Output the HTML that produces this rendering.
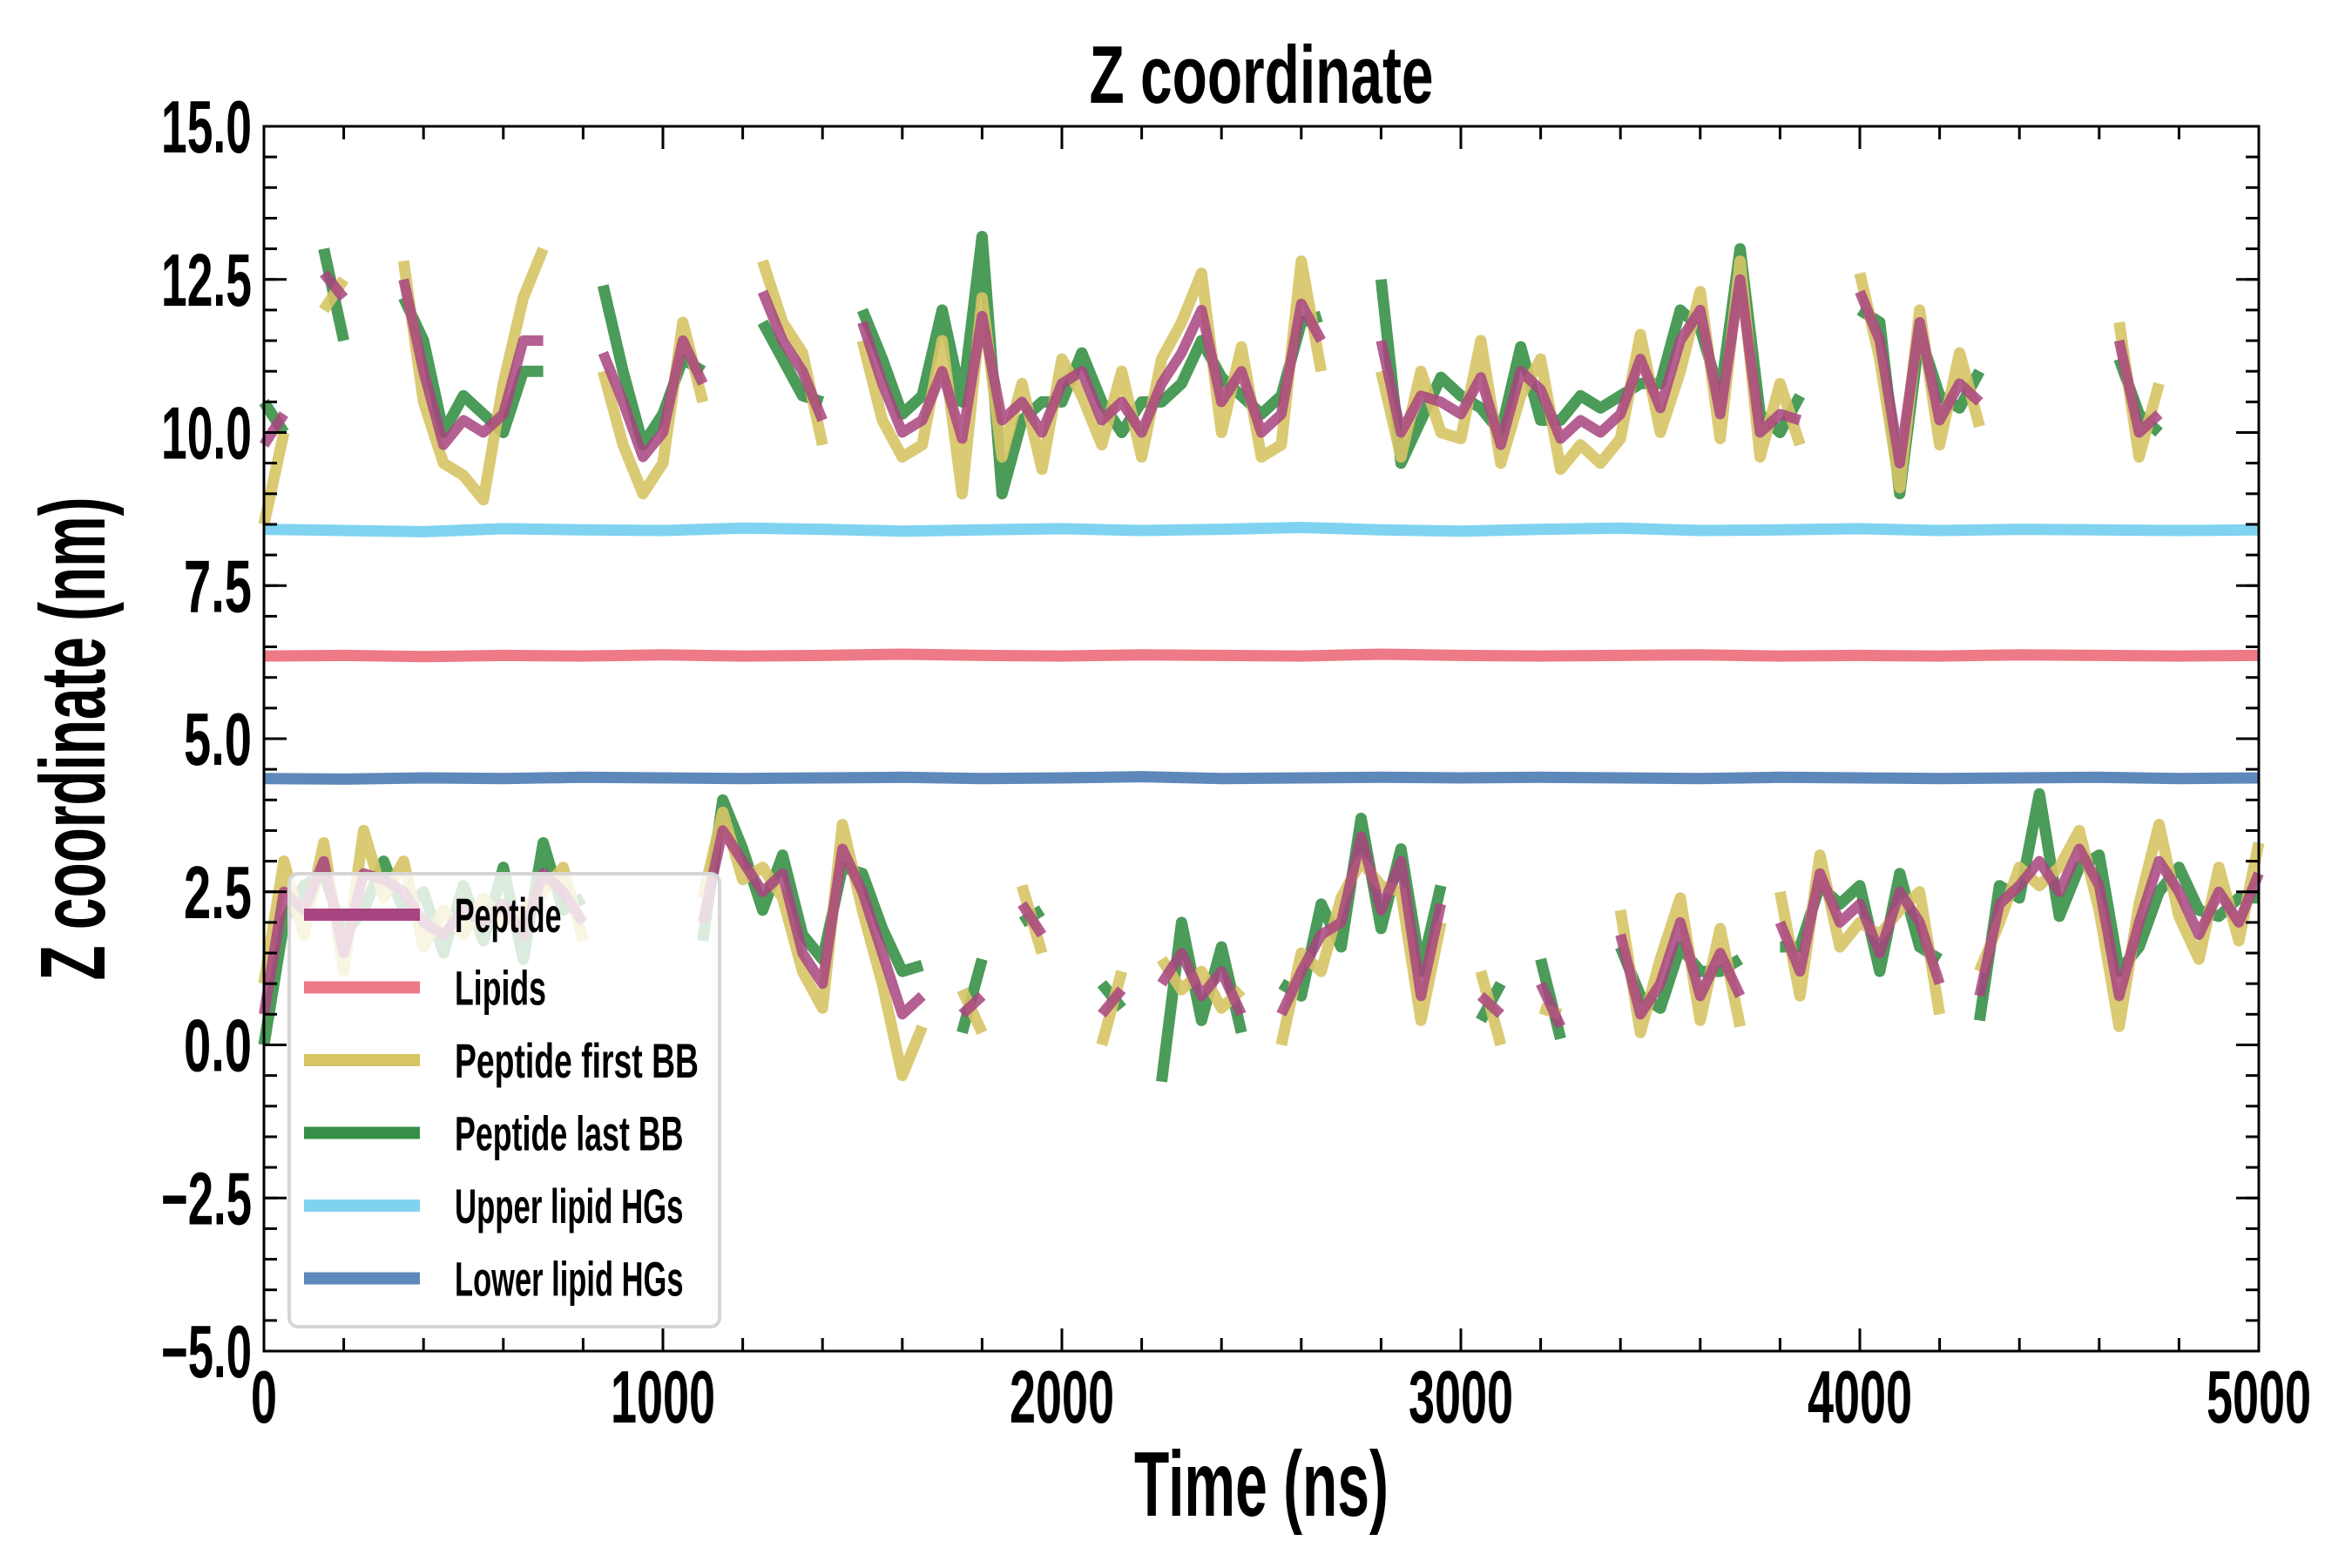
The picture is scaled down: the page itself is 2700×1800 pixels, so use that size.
<!DOCTYPE html>
<html><head><meta charset="utf-8"><style>
html,body{margin:0;padding:0;background:#fff;}
svg{display:block;font-family:"Liberation Sans Narrow","Liberation Sans",sans-serif;font-weight:bold;}
</style></head><body>
<svg id="chart" xmlns="http://www.w3.org/2000/svg" width="2700" height="1800" viewBox="0 0 2700 1800">
<rect width="2700" height="1800" fill="#fff"/>
<g id="plot"></g>
<g id="axes"></g>
<text x="1448" y="118" font-size="94" text-anchor="middle" textLength="395" lengthAdjust="spacingAndGlyphs">Z coordinate</text>
<text x="1448" y="1740" font-size="106" text-anchor="middle" textLength="292" lengthAdjust="spacingAndGlyphs">Time (ns)</text>
<text transform="translate(120,848) rotate(-90)" font-size="106" text-anchor="middle" textLength="555" lengthAdjust="spacingAndGlyphs">Z coordinate (nm)</text>
<g id="legend"></g>
</svg>
<script>
const timeStep = 50;
const pepUpper = [9.8,10.3,null,12.6,12.2,null,null,12.5,11,9.8, 10.2,10,10.3,11.5,11.5,null,null,11.3,10.5,9.6, 10,11.5,10.8,null,null,12.3,11.5,11,10.2,null, 11.8,10.8,10,10.2,11,9.9,11.9,10.2,10.5,10, 10.8,11,10.2,10.5,10,10.8,11.3,12,10.5,11, 10,10.3,12.1,11.5,null,null,11.5,10,10.6,10.5, 10.3,10.9,9.8,11,10.7,9.9,10.2,10,10.3,11.2, 10.4,11.5,12,10.3,12.5,10,10.3,10.2,null,null, 12.3,11.5,9.5,11.8,10.2,10.8,10.5,null,null,null, null,null,null,11.5,10,10.3,null,null,null,null, null];
const pepLower = [0.5,2.5,2.2,3,1.5,2.8,2.7,2.5,2.0,1.8, 2.2,2.0,2.3,1.8,2.8,2.5,2.0,null,null,null, null,null,2.0,3.5,3.0,2.5,2.8,1.5,1.0,3.2, 2.5,1.5,0.5,0.8,null,0.5,0.8,null,2.3,1.8, null,null,0.5,0.9,null,1.0,1.5,0.8,1.2,0.5, null,0.5,1.2,1.8,2.0,3.4,2.2,3.0,0.8,2.3, null,0.8,0.5,null,1.0,0.3,null,null,1.8,0.5, 1.0,2.0,0.8,1.5,0.8,null,2.0,1.2,2.8,2.0, 2.3,1.5,2.5,2.0,1.0,null,0.8,2.3,2.6,3.0, 2.5,3.2,2.6,0.8,2.0,3.0,2.5,1.8,2.5,2.0, 2.8];
const firstUpper = [8.5,10,null,12.0,12.5,null,null,12.8,10.5,9.5, 9.3,8.9,10.8,12.2,13.0,null,null,11.0,9.8,9.0, 9.5,11.8,10.5,null,null,12.8,11.8,11.3,9.8,null, 11.5,10.2,9.6,9.8,11.5,9.0,12.2,9.6,10.8,9.4, 11.2,10.6,9.8,11.0,9.6,11.2,11.8,12.6,10.0,11.4, 9.6,9.8,12.8,11.0,null,null,11.0,9.6,11.0,10.0, 9.9,11.5,9.5,10.6,11.2,9.4,9.8,9.5,9.9,11.6, 10.0,11.0,12.3,9.9,12.8,9.6,10.8,9.8,null,null, 12.6,11.2,9.1,12.0,9.8,11.3,10.1,null,null,null, null,null,null,11.8,9.6,10.8,null,null,null,null, null];
const firstLower = [1.0,3.0,1.8,3.3,1.2,3.5,2.4,3.0,1.6,2.2, 1.8,2.4,2.0,2.2,2.5,2.9,1.7,null,null,null, null,null,2.4,3.8,2.7,2.9,2.4,1.2,0.6,3.6, 2.2,1.0,-0.5,0.3,null,0.9,0.2,null,2.6,1.5, null,null,0.0,1.2,null,1.4,0.9,1.2,0.6,0.9, null,0.0,1.5,1.2,2.4,3.0,2.6,2.5,0.4,2.0, null,1.2,0.0,null,0.6,0.5,null,null,2.2,0.2, 1.4,2.4,0.4,1.9,0.3,null,2.5,0.8,3.1,1.6, 2.0,1.8,2.2,2.5,0.5,null,1.2,2.0,2.9,2.6, 2.9,3.5,2.2,0.3,2.3,3.6,2.1,1.4,2.9,1.7, 3.3];
const lastUpper = [10.5,10.0,null,13.0,11.5,null,null,12.2,11.5,10.0, 10.6,10.3,10.0,11.0,11.0,null,null,12.4,11.0,9.8, 10.3,11.2,11.0,null,null,11.8,11.2,10.6,10.5,null, 12.0,11.2,10.3,10.6,12.0,10.5,13.2,9.0,10.2,10.5, 10.5,11.3,10.5,10.0,10.5,10.5,10.8,11.5,10.9,10.6, 10.3,10.6,11.8,11.9,null,null,12.5,9.5,10.2,10.9, 10.6,10.4,10.0,11.4,10.2,10.2,10.6,10.4,10.6,10.8, 10.8,12.0,11.7,10.6,13.0,10.3,10.0,10.6,null,null, 12.0,11.8,9.0,11.6,10.6,10.4,11.0,null,null,null, null,null,null,11.2,10.3,10.0,null,null,null,null, null];
const lastLower = [0.0,2.0,2.6,2.8,1.8,2.2,3.0,2.2,2.5,1.5, 2.6,1.7,2.9,1.4,3.3,2.2,2.4,null,null,null, null,null,1.7,4.0,3.2,2.2,3.1,1.8,1.4,2.9, 2.8,1.9,1.2,1.3,null,0.2,1.4,null,2.0,2.2, null,null,1.0,0.6,null,-0.6,2.0,0.4,1.6,0.2, null,1.0,0.8,2.3,1.6,3.7,1.9,3.2,1.2,2.6, null,0.4,1.0,null,1.4,0.1,null,null,1.6,0.8, 0.6,1.6,1.2,1.2,1.4,null,1.6,1.6,2.6,2.3, 2.6,1.2,2.8,1.6,1.4,null,0.4,2.6,2.4,4.1, 2.1,2.9,3.1,1.2,1.6,2.5,2.9,2.2,2.1,2.4, 2.4];
const flatStep = 200;
const upperHG = [8.42,8.40,8.38,8.43,8.41,8.40,8.44,8.42,8.39,8.41,8.43,8.40,8.42,8.45,8.41,8.39,8.42,8.44,8.40,8.41,8.43,8.40,8.42,8.41,8.40,8.41];
const lipids = [6.35,6.36,6.34,6.36,6.35,6.37,6.35,6.36,6.38,6.36,6.35,6.37,6.36,6.35,6.38,6.36,6.35,6.36,6.37,6.35,6.36,6.35,6.37,6.36,6.35,6.36];
const lowerHG = [4.35,4.34,4.36,4.35,4.37,4.36,4.35,4.36,4.37,4.35,4.36,4.38,4.35,4.36,4.37,4.36,4.37,4.36,4.35,4.37,4.36,4.35,4.36,4.37,4.35,4.36];
const xTicks = [0,1000,2000,3000,4000,5000];
const xTickLabels = ["0","1000","2000","3000","4000","5000"];
const yTicks = [-5,-2.5,0,2.5,5,7.5,10,12.5,15];
const yTickLabels = ["\u22125.0","\u22122.5","0.0","2.5","5.0","7.5","10.0","12.5","15.0"];
const legendLabels = ["Peptide","Lipids","Peptide first BB","Peptide last BB","Upper lipid HGs","Lower lipid HGs"];

const X0=303,X1=2593,Y0=145,Y1=1551;
const xs=t=>X0+(t/5000)*(X1-X0);
const ys=v=>Y0+((15-v)/20)*(Y1-Y0);
const NS="http://www.w3.org/2000/svg";
const plot=document.getElementById('plot'),axes=document.getElementById('axes'),legend=document.getElementById('legend');
function mk(tag,attrs,parent){const e=document.createElementNS(NS,tag);for(const k in attrs)e.setAttribute(k,attrs[k]);parent.appendChild(e);return e;}
function pathFrom(vals,step){let d='',pen=false;vals.forEach((v,i)=>{if(v===null){pen=false;return;}d+=(pen?'L':'M')+xs(i*step).toFixed(1)+' '+ys(v).toFixed(1);pen=true;});return d;}
function drawSeries(vals,step,color,name,op,w){
  const p=mk('path',{d:pathFrom(vals,step),fill:'none',stroke:color,'stroke-width':w,'stroke-linejoin':'round','stroke-opacity':op},plot);
  
  
}
const cUp='#7fd3f0',cLip='#ee7a87',cLow='#5e88b9',cFirst='#d6c465',cLast='#379047',cPep='#a8447f';
drawSeries(upperHG,flatStep,cUp,'upper-lipid-hgs-line',1,13);
drawSeries(lipids,flatStep,cLip,'lipids-line',1,13);
drawSeries(lowerHG,flatStep,cLow,'lower-lipid-hgs-line',1,13);
drawSeries(lastUpper,timeStep,cLast,'peptide-last-bb-upper-line',0.9,13);
drawSeries(lastLower,timeStep,cLast,'peptide-last-bb-lower-line',0.9,13);
drawSeries(firstUpper,timeStep,cFirst,'peptide-first-bb-upper-line',0.9,13);
drawSeries(firstLower,timeStep,cFirst,'peptide-first-bb-lower-line',0.9,13);
drawSeries(pepUpper,timeStep,cPep,'peptide-upper-line',0.85,12);
drawSeries(pepLower,timeStep,cPep,'peptide-lower-line',0.85,12);

const fr=mk('rect',{x:X0,y:Y0,width:X1-X0,height:Y1-Y0,fill:'none',stroke:'#000','stroke-width':3},axes);


for(let t=0;t<=5000;t+=200){const x=xs(t);mk('line',{x1:x,y1:Y1,x2:x,y2:Y1-15,stroke:'#000','stroke-width':3},axes);mk('line',{x1:x,y1:Y0,x2:x,y2:Y0+15,stroke:'#000','stroke-width':3},axes);}
for(let v=-5;v<=15;v+=0.5){const y=ys(v);mk('line',{x1:X0,y1:y,x2:X0+15,y2:y,stroke:'#000','stroke-width':3},axes);mk('line',{x1:X1,y1:y,x2:X1-15,y2:y,stroke:'#000','stroke-width':3},axes);}
xTicks.forEach((t,i)=>{const x=xs(t);
  mk('line',{x1:x,y1:Y1,x2:x,y2:Y1-26,stroke:'#000','stroke-width':3},axes);
  mk('line',{x1:x,y1:Y0,x2:x,y2:Y0+26,stroke:'#000','stroke-width':3},axes);
  const tx=mk('text',{x:x,y:1633,'font-size':85,'text-anchor':'middle',textLength:xTickLabels[i].length*30,lengthAdjust:'spacingAndGlyphs'},axes);
  tx.textContent=xTickLabels[i];
  
  
});
yTicks.forEach((v,i)=>{const y=ys(v);
  mk('line',{x1:X0,y1:y,x2:X0+26,y2:y,stroke:'#000','stroke-width':3},axes);
  mk('line',{x1:X1,y1:y,x2:X1-26,y2:y,stroke:'#000','stroke-width':3},axes);
  const tx=mk('text',{x:289,y:y+30,'font-size':85,'text-anchor':'end',textLength:yTickLabels[i].length*26,lengthAdjust:'spacingAndGlyphs'},axes);
  tx.textContent=yTickLabels[i];
  
  
});
const lb=mk('rect',{x:332,y:1003,width:494,height:520,rx:10,fill:'#fff','fill-opacity':0.8,stroke:'#d6d6d6','stroke-width':4},legend);


const legendColors=[cPep,cLip,cFirst,cLast,cUp,cLow];
legendLabels.forEach((l,i)=>{const y=1050+i*83.5;
  const g=mk('g',{},legend);
  
  
  mk('line',{x1:349,y1:y,x2:482,y2:y,stroke:legendColors[i],'stroke-width':14},g);
  const tx=mk('text',{x:522,y:y+20,'font-size':56,textLength:l.length*17.5,lengthAdjust:'spacingAndGlyphs'},g);
  tx.textContent=l;
});
</script>
</body></html>
